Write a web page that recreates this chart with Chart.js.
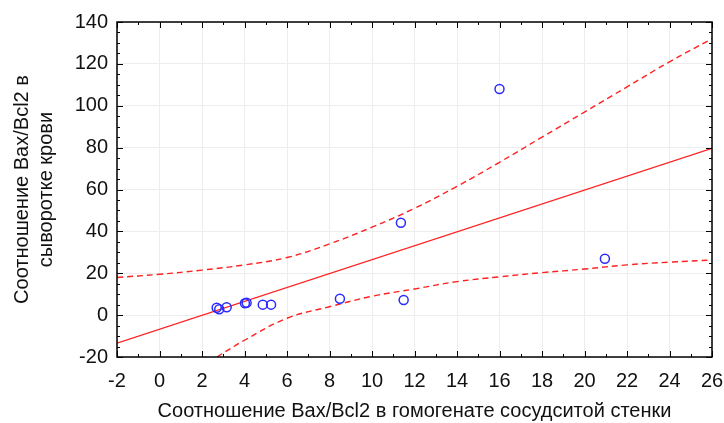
<!DOCTYPE html>
<html>
<head>
<meta charset="utf-8">
<script src="https://cdn.jsdelivr.net/npm/chart.js@4"></script>
<style>
  html, body { margin: 0; padding: 0; background: #fff; }
  #wrap { width: 724px; height: 423px; }
</style>
</head>
<body>
<div id="wrap"><canvas id="chart"></canvas></div>
<script>
// наблюдения (x - гомогенат стенки, y - сыворотка)
const pointsX = [2.69, 2.81, 3.16, 4.02, 4.10, 4.86, 5.25, 8.49, 11.36, 11.49, 16.0, 20.96];
const pointsY = [3.5, 2.8, 3.8, 5.7, 5.9, 5.0, 5.0, 7.8, 44.1, 7.2, 108, 26.9];

// линия регрессии
const fitX = [-2, 26];
const fitY = [-13.4, 79.7];

// доверительные границы
const upperX = [-2, 0, 2, 4, 6, 8, 10, 12, 14, 16, 18, 20, 22, 24, 26];
const upperY = [18, 19.5, 21.5, 24, 27.5, 34, 42, 51, 61.5, 73, 85, 97, 109, 121, 132];
const lowerX = [2.7, 4, 6, 8, 10, 12, 14, 16, 18, 20, 22, 24, 26];
const lowerY = [-20, -12, -1.5, 4, 9, 12.5, 16, 18.3, 20.3, 22, 24, 25.3, 26.3];

const xTicks = [-2, 0, 2, 4, 6, 8, 10, 12, 14, 16, 18, 20, 22, 24, 26];
const yTicks = [-20, 0, 20, 40, 60, 80, 100, 120, 140];

const xTitle = 'Соотношение Bax/Bcl2 в гомогенате сосудситой стенки';
const yTitle = ['Соотношение Bax/Bcl2 в', 'сыворотке крови'];

const toXY = (xs, ys) => xs.map((x, i) => ({x: x, y: ys[i]}));

// рамка и внутренние засечки на всех четырёх сторонах
const frameTicks = {
  id: 'frameTicks',
  afterDraw(chart) {
    const ctx = chart.ctx;
    const a = chart.chartArea;
    const sx = chart.scales.x;
    const sy = chart.scales.y;
    ctx.save();
    ctx.strokeStyle = '#000';
    ctx.lineWidth = 1;
    ctx.beginPath();
    for (let v = xTicks[0]; v <= xTicks[xTicks.length - 1]; v += 1) {
      const len = xTicks.includes(v) ? 6 : 3;
      const px = Math.round(sx.getPixelForValue(v)) + 0.5;
      ctx.moveTo(px, a.bottom); ctx.lineTo(px, a.bottom - len);
      ctx.moveTo(px, a.top); ctx.lineTo(px, a.top + len);
    }
    for (let v = yTicks[0]; v <= yTicks[yTicks.length - 1]; v += 5) {
      const len = yTicks.includes(v) ? 6 : 3;
      const py = Math.round(sy.getPixelForValue(v)) + 0.5;
      ctx.moveTo(a.left, py); ctx.lineTo(a.left + len, py);
      ctx.moveTo(a.right, py); ctx.lineTo(a.right - len, py);
    }
    ctx.stroke();
    ctx.lineWidth = 1.5;
    ctx.strokeRect(a.left, a.top, a.right - a.left, a.bottom - a.top);
    ctx.restore();
  }
};

const font = 'Liberation Sans, Arial, sans-serif';

new Chart(document.getElementById('chart'), {
  type: 'scatter',
  data: {
    datasets: [
      {
        label: 'upper',
        data: toXY(upperX, upperY),
        showLine: true,
        borderColor: '#ff2020',
        borderWidth: 1.4,
        borderDash: [6, 4],
        pointRadius: 0,
        tension: 0.4,
        order: 2,
      },
      {
        label: 'lower',
        data: toXY(lowerX, lowerY),
        showLine: true,
        borderColor: '#ff2020',
        borderWidth: 1.4,
        borderDash: [6, 4],
        pointRadius: 0,
        tension: 0.4,
        order: 2,
      },
      {
        label: 'fit',
        data: toXY(fitX, fitY),
        showLine: true,
        borderColor: '#ff2020',
        borderWidth: 1.2,
        pointRadius: 0,
        order: 1,
      },
      {
        label: 'points',
        data: toXY(pointsX, pointsY),
        pointRadius: 4.5,
        pointBorderWidth: 1.5,
        pointBorderColor: '#2a2aff',
        pointBackgroundColor: 'rgba(0,0,0,0)',
        order: 0,
      },
    ],
  },
  options: {
    responsive: true,
    maintainAspectRatio: false,
    animation: false,
    layout: {
      padding: {top: 22, right: 12, left: 0, bottom: 0},
    },
    plugins: {
      legend: {display: false},
      tooltip: {enabled: false},
    },
    scales: {
      x: {
        type: 'linear',
        min: xTicks[0],
        max: xTicks[xTicks.length - 1],
        afterBuildTicks: (s) => { s.ticks = xTicks.map(v => ({value: v})); },
        afterFit: (s) => { s.height = 66; s.paddingLeft = 0; s.paddingRight = 0; },
        grid: {color: '#ededed', drawTicks: false},
        border: {display: false},
        ticks: {
          color: '#111',
          padding: 12,
          maxRotation: 0,
          font: {family: font, size: 20},
        },
        title: {
          display: true,
          text: xTitle,
          color: '#111',
          padding: {top: 8, bottom: 0},
          font: {family: font, size: 20},
        },
      },
      y: {
        type: 'linear',
        min: yTicks[0],
        max: yTicks[yTicks.length - 1],
        afterBuildTicks: (s) => { s.ticks = yTicks.map(v => ({value: v})); },
        afterFit: (s) => { s.width = 117; s.paddingTop = 0; s.paddingBottom = 0; },
        grid: {color: '#ededed', drawTicks: false},
        border: {display: false},
        ticks: {
          color: '#111',
          padding: 9,
          font: {family: font, size: 20},
        },
        title: {
          display: true,
          text: yTitle,
          color: '#111',
          padding: {top: 10, bottom: 4},
          font: {family: font, size: 20},
        },
      },
    },
  },
  plugins: [frameTicks],
});
</script>
</body>
</html>
